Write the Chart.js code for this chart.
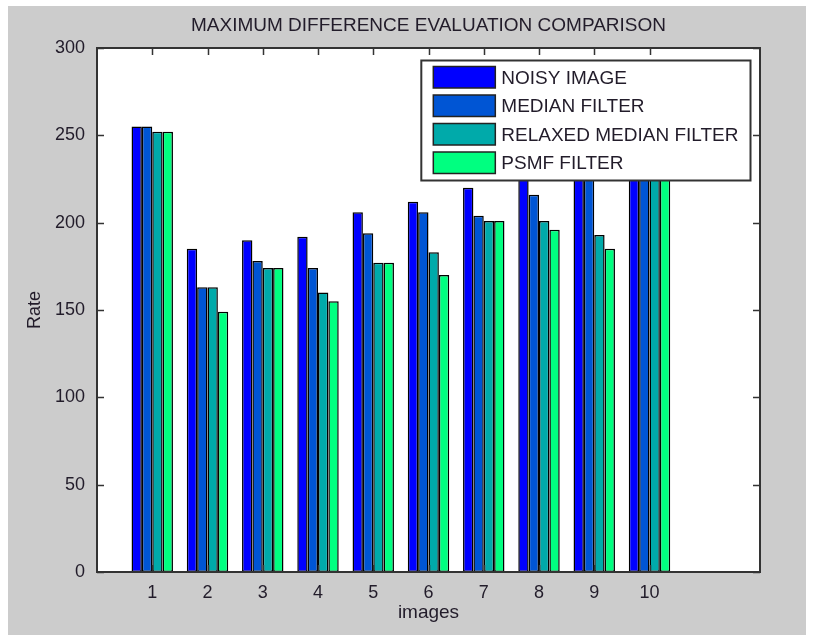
<!DOCTYPE html>
<html>
<head>
<meta charset="utf-8">
<script src="https://cdn.jsdelivr.net/npm/chart.js@4.4.1/dist/chart.umd.min.js"></script>
<style>
  body { margin: 0; background: #fff; }
  #wrap { position: relative; width: 813px; height: 635px; }
  #bg { position: absolute; left: 8px; top: 6px; width: 798px; height: 629px; background: #cccccc; }
  canvas { position: absolute; left: 0; top: 0; }
</style>
</head>
<body>
<div id="wrap"><div id="bg"></div><canvas id="chart" width="813" height="635"></canvas></div>
<script>
// Data (bars 8-10 partly hidden behind the legend, estimated)
const categories = [1, 2, 3, 4, 5, 6, 7, 8, 9, 10];
const seriesNames = ['NOISY IMAGE', 'MEDIAN FILTER', 'RELAXED MEDIAN FILTER', 'PSMF FILTER'];
const noisy   = [255, 185, 190, 192, 206, 212, 220, 240, 245, 252];
const median  = [255, 163, 178, 174, 194, 206, 204, 216, 238, 250];
const relaxed = [252, 163, 174, 160, 177, 183, 201, 201, 193, 246];
const psmf    = [252, 149, 174, 155, 177, 170, 201, 196, 185, 242];
const yTicks  = [0, 50, 100, 150, 200, 250, 300];
const colors  = ['#0000ff', '#0055d4', '#00aaaa', '#00ff80'];
const chartTitle = 'MAXIMUM DIFFERENCE EVALUATION COMPARISON';

const FONT = '"Liberation Sans", Arial, sans-serif';
const TEXT = '#221c2a';

// weisser Plotbereich, Titel ueber dem Plot, Rahmen mit Ticks nach innen (MATLAB-Stil)
const frame = {
    id: 'frame',
    beforeDatasetsDraw(chart) {
        const { ctx, chartArea: a } = chart;
        ctx.save();
        ctx.fillStyle = '#fff';
        ctx.fillRect(a.left, a.top, a.right - a.left, a.bottom - a.top);
        ctx.fillStyle = TEXT;
        ctx.font = '19px ' + FONT;
        ctx.textAlign = 'center';
        ctx.textBaseline = 'middle';
        ctx.fillText(chartTitle, (a.left + a.right) / 2, a.top - 22);
        ctx.restore();
    },
    afterDatasetsDraw(chart) {
        const { ctx, chartArea: a, scales } = chart;
        const tl = 7;
        ctx.save();
        ctx.strokeStyle = '#333';
        ctx.lineWidth = 1.5;
        ctx.beginPath();
        scales.x.ticks.forEach(t => {
            const px = Math.round(scales.x.getPixelForValue(t.value)) + 0.5;
            ctx.moveTo(px, a.bottom); ctx.lineTo(px, a.bottom - tl);
            ctx.moveTo(px, a.top); ctx.lineTo(px, a.top + tl);
        });
        scales.y.ticks.forEach(t => {
            const py = Math.round(scales.y.getPixelForValue(t.value)) + 0.5;
            ctx.moveTo(a.left, py); ctx.lineTo(a.left + tl, py);
            ctx.moveTo(a.right, py); ctx.lineTo(a.right - tl, py);
        });
        ctx.stroke();
        ctx.lineWidth = 2;
        ctx.strokeRect(a.left, a.top, a.right - a.left, a.bottom - a.top);
        ctx.restore();
    }
};

// Legende innerhalb des Plots, oben rechts, deckt die Balken ab
const legendBox = {
    id: 'legendBox',
    afterDatasetsDraw(chart) {
        const { ctx, chartArea: a } = chart;
        const sets = chart.data.datasets;
        ctx.save();
        ctx.font = '19px ' + FONT;
        const textW = Math.max(...sets.map(d => ctx.measureText(d.label).width));
        const w = 12 + 62 + 6 + textW + 12;
        const h = 6 + 28.5 * (sets.length - 1) + 21.5 + 7;
        const right = a.right - 9.5;
        const top = a.top + 12.5;
        const left = right - w;
        ctx.fillStyle = '#fff';
        ctx.fillRect(left, top, w, h);
        ctx.strokeStyle = '#333';
        ctx.lineWidth = 2;
        ctx.strokeRect(left, top, w, h);
        sets.forEach((d, i) => {
            const y = top + 6 + 28.5 * i;
            ctx.fillStyle = d.backgroundColor;
            ctx.fillRect(left + 12, y, 62, 21.5);
            ctx.lineWidth = 1.5;
            ctx.strokeStyle = '#222';
            ctx.strokeRect(left + 12, y, 62, 21.5);
            ctx.fillStyle = TEXT;
            ctx.textBaseline = 'middle';
            ctx.textAlign = 'left';
            ctx.fillText(d.label, left + 12 + 62 + 6, y + 12);
        });
        ctx.restore();
    }
};

const seriesData = [noisy, median, relaxed, psmf];

new Chart(document.getElementById('chart'), {
    type: 'bar',
    data: {
        labels: categories,
        datasets: seriesNames.map((name, i) => ({
            label: name,
            data: seriesData[i],
            backgroundColor: colors[i],
            borderColor: '#000',
            borderWidth: 1.5,
            borderSkipped: false,
            categoryPercentage: 0.75,
            barPercentage: 1.0
        }))
    },
    options: {
        responsive: false,
        animation: false,
        devicePixelRatio: 1,
        layout: { padding: { left: 0, right: 53, top: 48, bottom: 0 } },
        plugins: {
            legend: { display: false },
            tooltip: { enabled: false },
            title: { display: false }
        },
        scales: {
            x: {
                type: 'linear',
                min: 0,
                max: 12,
                offset: false,
                grid: { display: false },
                border: { display: false },
                afterBuildTicks: scale => { scale.ticks = categories.map(v => ({ value: v })); },
                afterFit: scale => { scale.height = 63; },
                ticks: {
                    color: TEXT,
                    font: { family: FONT, size: 18 },
                    padding: 2,
                    maxRotation: 0,
                    callback: v => String(v)
                },
                title: {
                    display: true,
                    text: 'images',
                    color: TEXT,
                    font: { family: FONT, size: 19 },
                    padding: { top: 0, bottom: 11 }
                }
            },
            y: {
                min: 0,
                max: 300,
                grid: { display: false },
                border: { display: false },
                afterBuildTicks: scale => { scale.ticks = yTicks.map(v => ({ value: v })); },
                afterFit: scale => { scale.width = 97; },
                ticks: {
                    color: TEXT,
                    font: { family: FONT, size: 18 },
                    padding: 4
                },
                title: {
                    display: true,
                    text: 'Rate',
                    color: TEXT,
                    font: { family: FONT, size: 18 },
                    padding: { top: 24, bottom: 0 }
                }
            }
        }
    },
    plugins: [frame, legendBox]
});
</script>
</body>
</html>
